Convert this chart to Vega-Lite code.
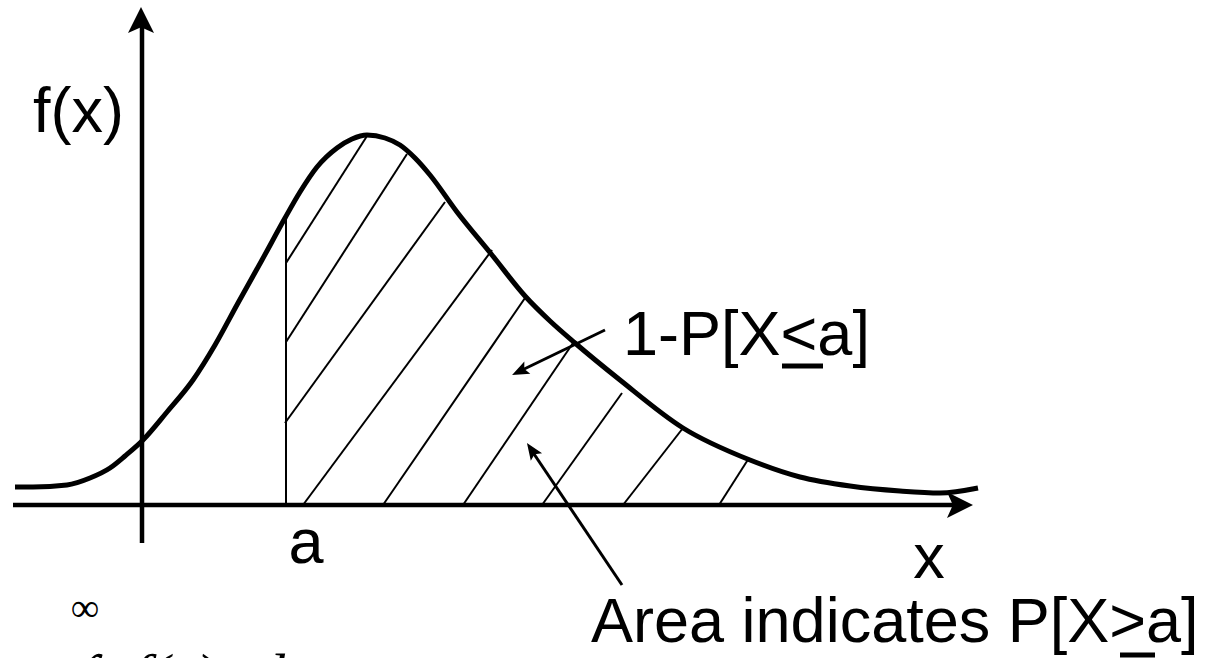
{
  "$schema": "https://vega.github.io/schema/vega-lite/v6.json",
  "width": 1211,
  "height": 658,
  "padding": 0,
  "autosize": {"type": "none"},
  "background": "white",
  "config": {"view": {"stroke": null}},
  "encoding": {
    "x": {"field": "x", "type": "quantitative", "axis": null, "scale": {"domain": [-142, 1069], "nice": false, "zero": false}},
    "y": {"field": "y", "type": "quantitative", "axis": null, "scale": {"domain": [-153, 505], "nice": false, "zero": false}}
  },
  "layer": [
    {
      "data": {"values": [
        {"x": 144, "y": 0, "x2": 144, "y2": 288},
        {"x": 144, "y": 242, "x2": 225, "y2": 369},
        {"x": 144, "y": 163, "x2": 265, "y2": 351},
        {"x": 143, "y": 82, "x2": 303, "y2": 303},
        {"x": 161, "y": 0, "x2": 350, "y2": 255},
        {"x": 241, "y": 0, "x2": 383, "y2": 207},
        {"x": 321, "y": 0, "x2": 431, "y2": 162},
        {"x": 400, "y": 0, "x2": 480, "y2": 112},
        {"x": 481, "y": 0, "x2": 541, "y2": 77},
        {"x": 577, "y": 0, "x2": 607, "y2": 47}
      ]},
      "mark": {"type": "rule", "color": "black", "strokeWidth": 2},
      "encoding": {"x2": {"field": "x2"}, "y2": {"field": "y2"}}
    },
    {
      "data": {"values": [
        {"x": -129, "y": 0, "x2": 820, "y2": 0},
        {"x": 0, "y": -38, "x2": 0, "y2": 480}
      ]},
      "mark": {"type": "rule", "color": "black", "strokeWidth": 4.5},
      "encoding": {"x2": {"field": "x2"}, "y2": {"field": "y2"}}
    },
    {
      "data": {"values": [
        {"x": -127, "y": 18}, {"x": -109, "y": 18}, {"x": -75, "y": 20}, {"x": -52, "y": 27},
        {"x": -32, "y": 37}, {"x": -17, "y": 49}, {"x": 1, "y": 65}, {"x": 25, "y": 93},
        {"x": 51, "y": 125}, {"x": 73, "y": 160}, {"x": 96, "y": 202}, {"x": 120, "y": 245},
        {"x": 143, "y": 287}, {"x": 158, "y": 313}, {"x": 175, "y": 338}, {"x": 195, "y": 357},
        {"x": 210, "y": 366}, {"x": 225, "y": 370}, {"x": 243, "y": 367}, {"x": 258, "y": 360},
        {"x": 273, "y": 347}, {"x": 288, "y": 330}, {"x": 315, "y": 293}, {"x": 350, "y": 250},
        {"x": 383, "y": 209}, {"x": 408, "y": 184}, {"x": 433, "y": 162}, {"x": 478, "y": 125},
        {"x": 541, "y": 77}, {"x": 608, "y": 45}, {"x": 658, "y": 28}, {"x": 708, "y": 19},
        {"x": 758, "y": 14}, {"x": 798, "y": 12}, {"x": 836, "y": 17}
      ]},
      "mark": {"type": "line", "color": "black", "strokeWidth": 5, "interpolate": "monotone"},
      "encoding": {}
    },
    {
      "data": {"values": [{"x": 818, "y": 0}]},
      "mark": {"type": "point", "shape": "M1,0 L-1,-1 L-0.55,0 L-1,1 Z", "size": 676, "filled": true, "color": "black", "opacity": 1, "strokeWidth": 0},
      "encoding": {}
    },
    {
      "data": {"values": [{"x": -1, "y": 485}]},
      "mark": {"type": "point", "shape": "M0,-1 L1,1 L0,0.55 L-1,1 Z", "size": 676, "filled": true, "color": "black", "opacity": 1, "strokeWidth": 0},
      "encoding": {}
    },
    {
      "data": {"values": [
        {"x": 463, "y": 175, "x2": 376, "y2": 133},
        {"x": 480, "y": -80, "x2": 390, "y2": 54}
      ]},
      "mark": {"type": "rule", "color": "black", "strokeWidth": 3},
      "encoding": {"x2": {"field": "x2"}, "y2": {"field": "y2"}}
    },
    {
      "data": {"values": [{"x": 377.7, "y": 133.7}]},
      "mark": {"type": "point", "shape": "M1,0 L-1,-0.8 L-0.6,0 L-1,0.8 Z", "size": 289, "angle": 154, "filled": true, "color": "black", "opacity": 1, "strokeWidth": 0},
      "encoding": {}
    },
    {
      "data": {"values": [{"x": 389.7, "y": 55}]},
      "mark": {"type": "point", "shape": "M1,0 L-1,-0.8 L-0.6,0 L-1,0.8 Z", "size": 289, "angle": 236, "filled": true, "color": "black", "opacity": 1, "strokeWidth": 0},
      "encoding": {}
    },
    {
      "data": {"values": [
        {"x": 640, "y": 139, "x2": 681, "y2": 139},
        {"x": 978, "y": -150, "x2": 1013, "y2": -150}
      ]},
      "mark": {"type": "rule", "color": "black", "strokeWidth": 5},
      "encoding": {"x2": {"field": "x2"}, "y2": {"field": "y2"}}
    },
    {
      "data": {"values": [
        {"x": -109, "y": 373, "label": "f(x)"},
        {"x": 481, "y": 150, "label": "1-P[X<a]"},
        {"x": 449, "y": -137, "label": "Area indicates P[X>a]"}
      ]},
      "mark": {"type": "text", "align": "left", "baseline": "alphabetic", "font": "Liberation Sans", "fontSize": 63, "color": "black"},
      "encoding": {"text": {"field": "label"}}
    },
    {
      "data": {"values": [
        {"x": 164, "y": -58, "label": "a"},
        {"x": 787, "y": -73, "label": "x"}
      ]},
      "mark": {"type": "text", "align": "center", "baseline": "alphabetic", "font": "Liberation Sans", "fontSize": 63, "color": "black"},
      "encoding": {"text": {"field": "label"}}
    },
    {
      "data": {"values": [{"x": -57, "y": -116, "label": "∞"}]},
      "mark": {"type": "text", "align": "center", "baseline": "alphabetic", "font": "Liberation Serif", "fontSize": 40, "color": "black"},
      "encoding": {"text": {"field": "label"}}
    },
    {
      "data": {"values": [{"x": -60, "y": -193, "label": "∫"}]},
      "mark": {"type": "text", "align": "left", "baseline": "alphabetic", "font": "Liberation Serif", "fontSize": 62, "fontWeight": "bold", "fontStyle": "italic", "color": "black"},
      "encoding": {"text": {"field": "label"}}
    },
    {
      "data": {"values": [
        {"x": -9, "y": -190, "label": "f(x)"},
        {"x": 113, "y": -190, "label": "dx"}
      ]},
      "mark": {"type": "text", "align": "left", "baseline": "alphabetic", "font": "Liberation Serif", "fontSize": 60, "fontStyle": "italic", "color": "black"},
      "encoding": {"text": {"field": "label"}}
    }
  ]
}
